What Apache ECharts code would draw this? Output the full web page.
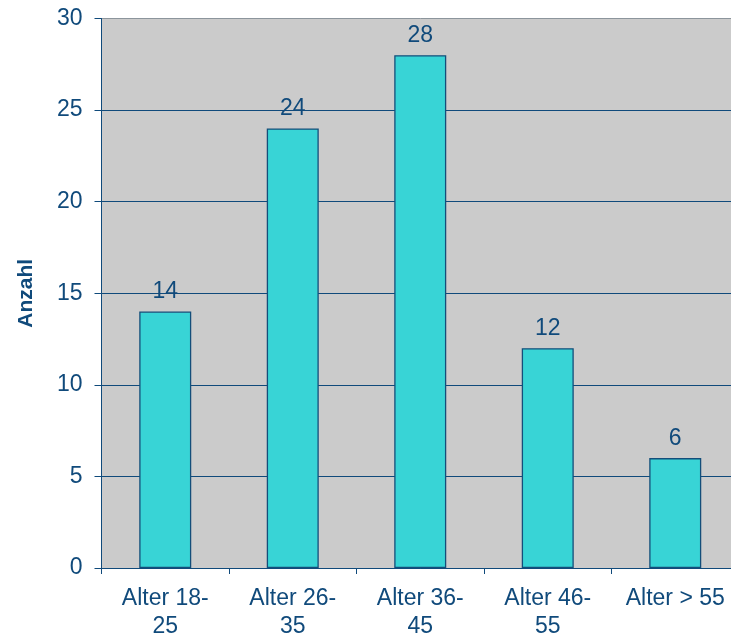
<!DOCTYPE html>
<html>
<head>
<meta charset="utf-8">
<script src="https://cdn.jsdelivr.net/npm/echarts@6/dist/echarts.min.js"></script>
<style>
html,body{margin:0;padding:0;background:#fff;overflow:hidden;}
#chart{width:739px;height:641px;}
</style>
</head>
<body>
<div id="chart"></div>
<script>
var categories = ['Alter 18-\n25', 'Alter 26-\n35', 'Alter 36-\n45', 'Alter 46-\n55', 'Alter > 55'];
var values = [14, 24, 28, 12, 6];
var yTicks = { min: 0, max: 30, interval: 5 };
var yAxisName = 'Anzahl';

var navy = '#104a7b';
var font = 'Liberation Sans, Arial, sans-serif';
var chart = echarts.init(document.getElementById('chart'), null, { renderer: 'canvas' });
chart.setOption({
  animation: false,
  grid: { left: 101.5, right: 0, top: 18.5, bottom: 72, show: true, backgroundColor: '#cbcbcb', borderWidth: 0 },
  xAxis: {
    type: 'category',
    data: categories,
    axisLine: { show: true, lineStyle: { color: navy, width: 1 } },
    axisTick: { show: true, length: 6, lineStyle: { color: navy } },
    axisLabel: { color: navy, fontFamily: font, fontSize: 23, lineHeight: 28, margin: 17, interval: 0 },
    splitLine: { show: false }
  },
  yAxis: {
    type: 'value',
    min: yTicks.min, max: yTicks.max, interval: yTicks.interval,
    name: yAxisName,
    nameLocation: 'middle',
    nameGap: 65,
    nameRotate: 90,
    nameTextStyle: { color: navy, fontFamily: font, fontSize: 21, fontWeight: 'bold' },
    axisLine: { show: true, lineStyle: { color: navy, width: 1 } },
    axisTick: { show: true, length: 7, lineStyle: { color: navy } },
    axisLabel: { color: navy, fontFamily: font, fontSize: 23, margin: 19 },
    splitLine: { show: true, lineStyle: { color: [navy, navy, navy, navy, navy, navy, '#8c959c'], width: 1 } }
  },
  series: [{
    type: 'bar',
    data: values,
    barWidth: 52,
    itemStyle: { color: '#38d4d6', borderColor: '#144e7a', borderWidth: 1.3 },
    label: { show: true, position: 'top', distance: 8, color: navy, fontFamily: font, fontSize: 23 }
  }]
});
</script>
</body>
</html>
